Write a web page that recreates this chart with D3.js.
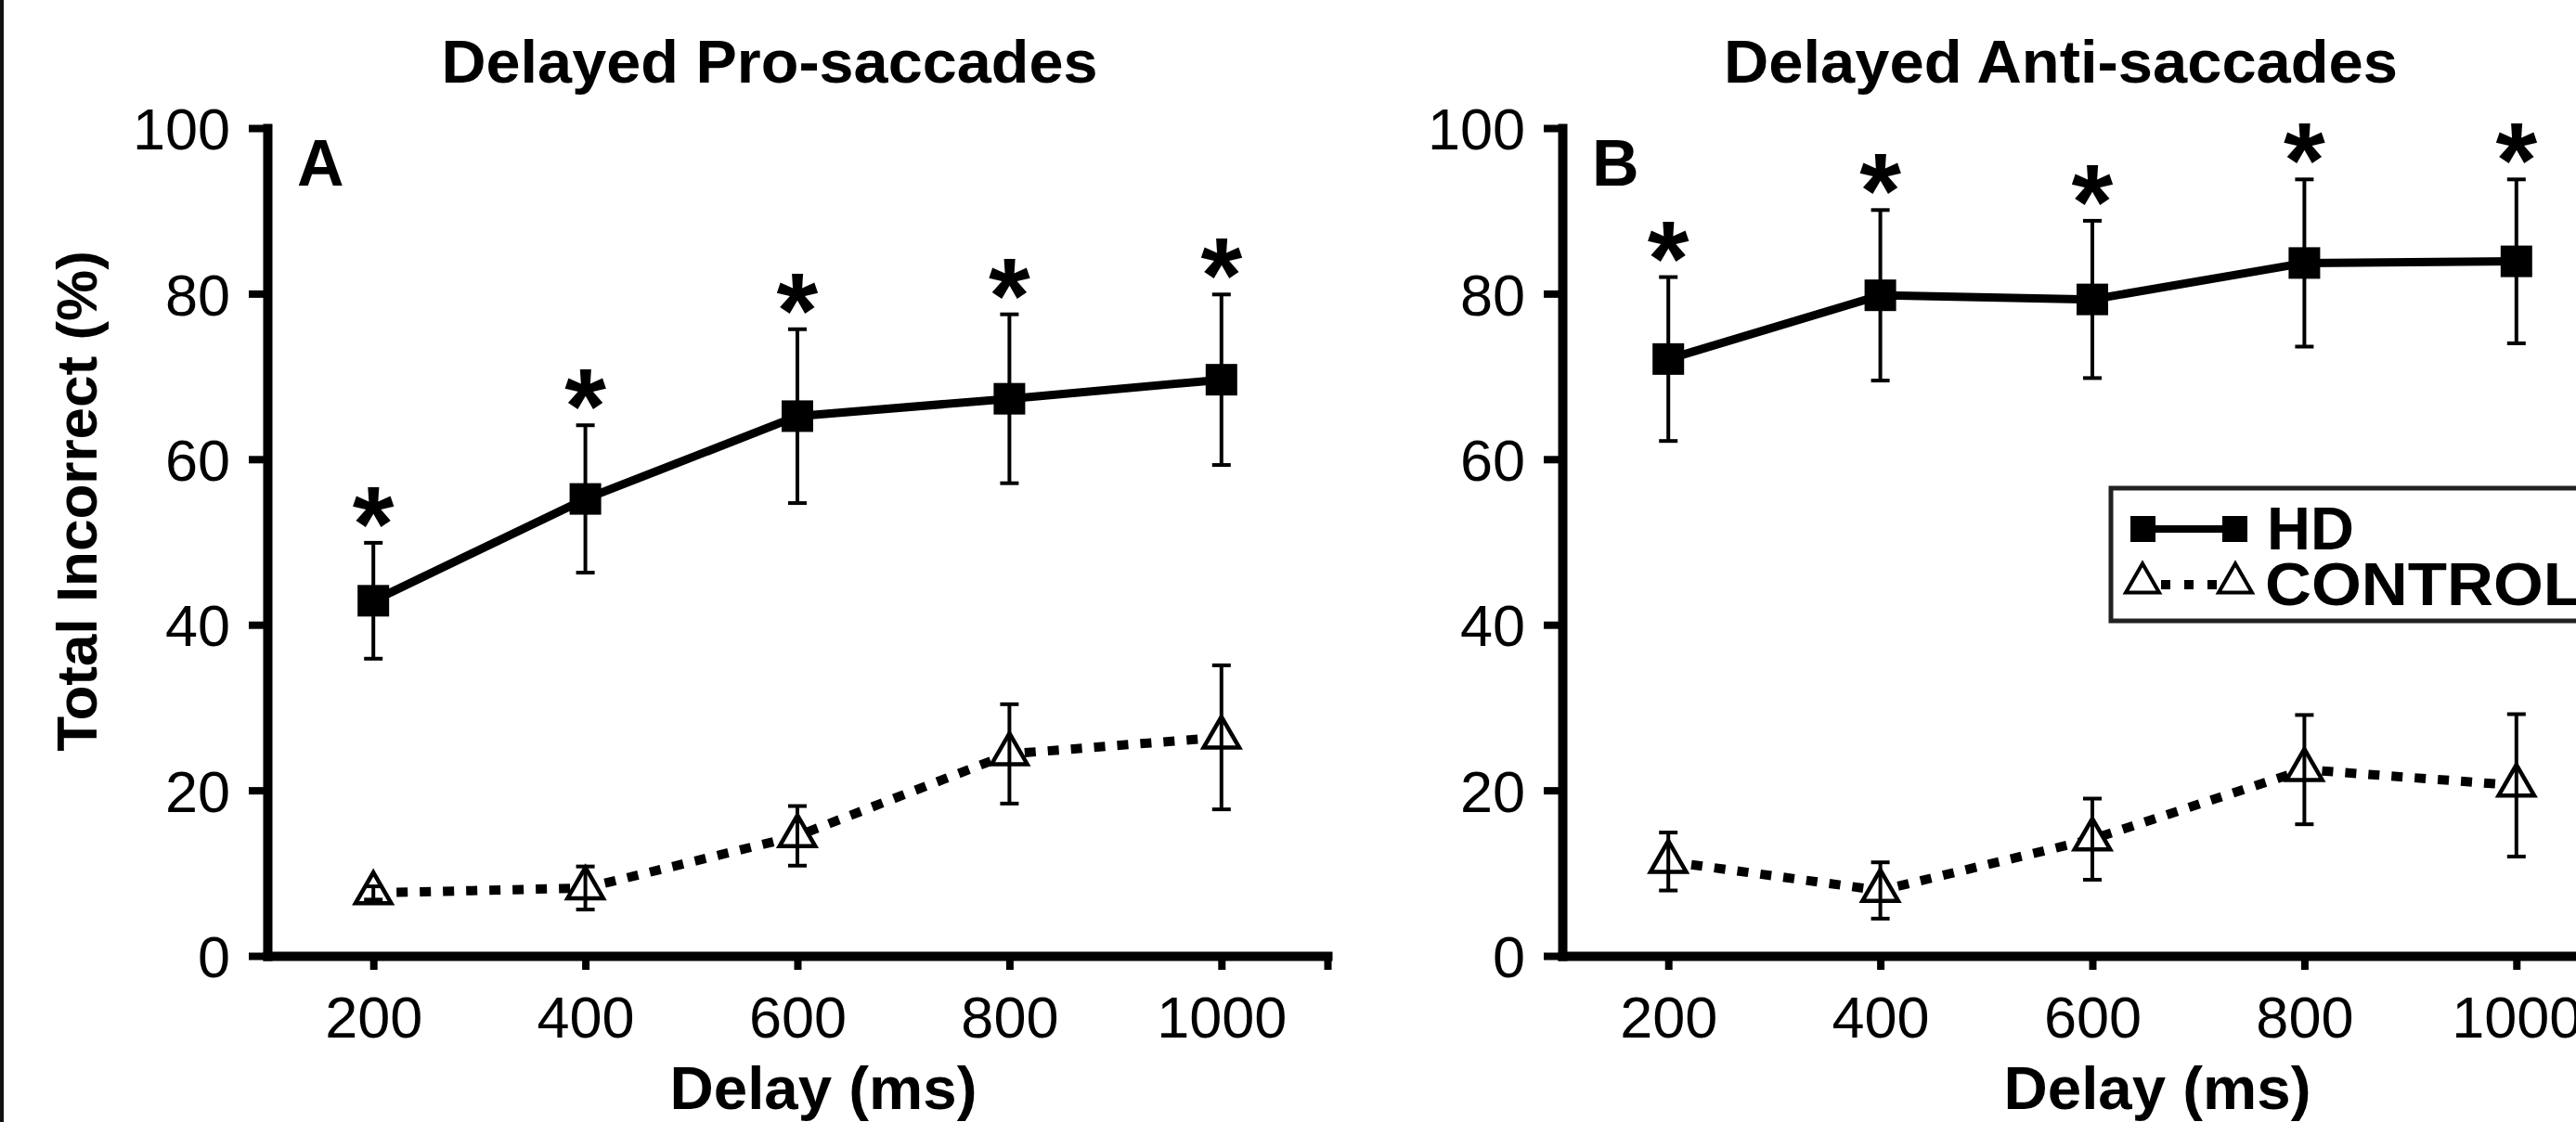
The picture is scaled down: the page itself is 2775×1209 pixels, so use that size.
<!DOCTYPE html>
<html>
<head>
<meta charset="utf-8">
<script src="https://cdn.jsdelivr.net/npm/d3@7"></script>
<style>
  body { margin: 0; background: #fff; }
  svg { display: block; font-family: "Liberation Sans", Arial, sans-serif; }
</style>
</head>
<body>
<div id="chart"></div>
<script>
// values (percent incorrect, mean and error)
const delays = [200, 400, 600, 800, 1000];
const xTicks = [200, 400, 600, 800, 1000, 1100];
const yTicks = [0, 20, 40, 60, 80, 100];

const proHD = [42.9, 55.2, 65.2, 67.3, 69.6];
const proHDErr = [7.0, 8.9, 10.5, 10.2, 10.3];
const proCtrl = [7.6, 8.2, 14.5, 24.4, 26.4];
const proCtrlErr = [0.8, 2.6, 3.6, 6.0, 8.7];

const antiHD = [72.1, 79.8, 79.3, 83.7, 83.9];
const antiHDErr = [9.9, 10.3, 9.5, 10.1, 9.9];
const antiCtrl = [11.4, 7.9, 14.1, 22.5, 20.6];
const antiCtrlErr = [3.5, 3.4, 4.9, 6.6, 8.6];

const W = 2775, H = 1209;
const yTop = 138, yBottom = 1030, plotW = 1142;

const svg = d3.select('#chart').append('svg')
  .attr('width', W).attr('height', H);

svg.append('rect').attr('width', W).attr('height', H).attr('fill', '#fff');
// thin frame line on the left edge of the scan
svg.append('line').attr('x1', 2).attr('x2', 2).attr('y1', 0).attr('y2', H)
  .attr('stroke', '#111').attr('stroke-width', 4);

function rows(means, errs) {
  return delays.map((d, i) => ({ d: d, v: means[i], e: errs[i] }));
}

function drawPanel(p) {
  const x = d3.scaleLinear().domain([100, 1100]).range([p.x0, p.x0 + plotW]);
  const y = d3.scaleLinear().domain([0, 100]).range([yBottom, yTop]);
  const g = svg.append('g');

  // axes
  const xAxis = g.append('g').attr('transform', 'translate(0,' + yBottom + ')')
    .call(d3.axisBottom(x).tickValues(xTicks).tickSizeInner(15).tickSizeOuter(0).tickPadding(28)
      .tickFormat(d => d === 1100 ? '' : d));
  const yAxis = g.append('g').attr('transform', 'translate(' + p.x0 + ',0)')
    .call(d3.axisLeft(y).tickValues(yTicks).tickSizeInner(20).tickSizeOuter(0).tickPadding(20));

  [xAxis, yAxis].forEach(a => {
    a.select('.domain').attr('stroke', '#000').attr('stroke-width', 10).attr('stroke-linecap', 'square');
    a.selectAll('.tick line').attr('stroke', '#000').attr('stroke-width', 8);
    a.selectAll('.tick text').attr('fill', '#000').attr('font-size', 63);
  });
  yAxis.selectAll('.tick text').attr('dy', '0.36em');

  // titles
  g.append('text').attr('x', p.titleX).attr('y', 89).attr('text-anchor', 'middle')
    .attr('font-size', 64).attr('font-weight', 'bold')
    .attr('textLength', p.titleW).attr('lengthAdjust', 'spacingAndGlyphs').text(p.title);
  g.append('text').attr('x', p.x0 + 32).attr('y', 200)
    .attr('font-size', 70).attr('font-weight', 'bold').text(p.letter);
  g.append('text').attr('x', p.xLabelX).attr('y', 1195).attr('text-anchor', 'middle')
    .attr('font-size', 64).attr('font-weight', 'bold')
    .attr('textLength', 331).attr('lengthAdjust', 'spacingAndGlyphs').text('Delay (ms)');
  if (p.yLabel) {
    g.append('text').attr('transform', 'translate(104,540) rotate(-90)')
      .attr('text-anchor', 'middle').attr('font-size', 62).attr('font-weight', 'bold')
      .text('Total Incorrect (%)');
  }

  const line = d3.line().x(r => x(r.d)).y(r => y(r.v));

  // control series: dotted line, open triangles
  const ctrl = rows(p.ctrl, p.ctrlErr);
  g.append('path').datum(ctrl).attr('d', line).attr('fill', 'none')
    .attr('stroke', '#000').attr('stroke-width', 10).attr('stroke-dasharray', '12,13');
  g.selectAll('.tri').data(ctrl).enter().append('path')
    .attr('transform', r => 'translate(' + x(r.d) + ',' + y(r.v) + ')')
    .attr('d', d3.symbol(d3.symbolTriangle, 640))
    .attr('fill', '#fff').attr('stroke', '#000').attr('stroke-width', 4.5);
  errorBars(g, ctrl, x, y);

  // HD series: solid line, filled squares
  const hd = rows(p.hd, p.hdErr);
  g.append('path').datum(hd).attr('d', line).attr('fill', 'none')
    .attr('stroke', '#000').attr('stroke-width', 9);
  errorBars(g, hd, x, y);
  g.selectAll('.sq').data(hd).enter().append('rect')
    .attr('x', r => x(r.d) - 17).attr('y', r => y(r.v) - 17)
    .attr('width', 34).attr('height', 34).attr('fill', '#000');

  // significance marks over each HD error bar
  g.selectAll('.star').data(hd).enter().append('text')
    .attr('x', r => x(r.d)).attr('y', r => y(r.v + r.e) - 35 + 54)
    .attr('text-anchor', 'middle').attr('font-size', 115).attr('font-weight', 'bold')
    .text('*');
}

function errorBars(g, data, x, y) {
  const b = g.append('g').attr('stroke', '#000').attr('stroke-width', 4);
  data.forEach(r => {
    const cx = x(r.d);
    b.append('line').attr('x1', cx).attr('x2', cx).attr('y1', y(r.v - r.e)).attr('y2', y(r.v + r.e));
    [r.v - r.e, r.v + r.e].forEach(v => {
      b.append('line').attr('x1', cx - 10).attr('x2', cx + 10).attr('y1', y(v)).attr('y2', y(v));
    });
  });
}

drawPanel({ x0: 288, title: 'Delayed Pro-saccades', titleX: 829, titleW: 707, xLabelX: 887, letter: 'A', yLabel: true,
  hd: proHD, hdErr: proHDErr, ctrl: proCtrl, ctrlErr: proCtrlErr });
drawPanel({ x0: 1683, title: 'Delayed Anti-saccades', titleX: 2220, titleW: 726, xLabelX: 2324, letter: 'B', yLabel: false,
  hd: antiHD, hdErr: antiHDErr, ctrl: antiCtrl, ctrlErr: antiCtrlErr });

// legend, sits in panel B and runs off the right edge like the original
const lg = svg.append('g').attr('transform', 'translate(2274,526)');
lg.append('rect').attr('width', 620).attr('height', 143)
  .attr('fill', '#fff').attr('stroke', '#222').attr('stroke-width', 5);
lg.append('line').attr('x1', 34).attr('x2', 133).attr('y1', 44).attr('y2', 44)
  .attr('stroke', '#000').attr('stroke-width', 8);
[34, 133].forEach(cx => {
  lg.append('rect').attr('x', cx - 13).attr('y', 30).attr('width', 27).attr('height', 28).attr('fill', '#000');
});
lg.append('line').attr('x1', 34).attr('x2', 133).attr('y1', 104).attr('y2', 104)
  .attr('stroke', '#000').attr('stroke-width', 10).attr('stroke-dasharray', '10,15').attr('stroke-dashoffset', -20);
[34, 134].forEach(cx => {
  lg.append('path').attr('transform', 'translate(' + cx + ',102)')
    .attr('d', d3.symbol(d3.symbolTriangle, 560))
    .attr('fill', '#fff').attr('stroke', '#000').attr('stroke-width', 4);
});
lg.append('text').attr('x', 168).attr('y', 66).attr('font-size', 65).attr('font-weight', 'bold').text('HD');
lg.append('text').attr('x', 166).attr('y', 126).attr('font-size', 65).attr('font-weight', 'bold')
  .attr('textLength', 342).attr('lengthAdjust', 'spacingAndGlyphs').text('CONTROL');
</script>
</body>
</html>
